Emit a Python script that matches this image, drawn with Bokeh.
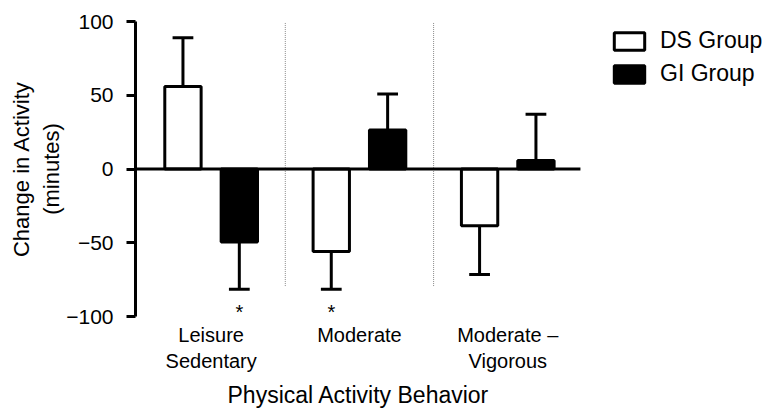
from bokeh.plotting import figure
from bokeh.models import (Range1d, FixedTicker, Legend, LegendItem,
                          ColumnDataSource, Title)
from bokeh.core.properties import value
from bokeh.embed import file_html
from bokeh.resources import INLINE

# ---- data ----
categories = ["Leisure\nSedentary", "Moderate", "Moderate \u2013\nVigorous"]
ds_values = [56, -56, -38.5]
ds_errors = [33, 25.5, 33]
gi_values = [-49.5, 26.5, 5.8]
gi_errors = [32, 24.4, 31.4]
ds_sig = [False, True, False]
gi_sig = [True, False, False]
y_ticks = [-100, -50, 0, 50, 100]
series_names = ["DS Group", "GI Group"]
x_title = "Physical Activity Behavior"

FONT = "Liberation Sans"
OFFSET = 0.19
BAR_W = 0.245
CAP = 0.07
X_START = -0.51
AXIS_END = 2.49      # where the zero line stops
X_END = 3.785        # frame extends to the right edge to host the legend

p = figure(width=772, height=412, output_backend="svg", toolbar_location=None,
           x_range=Range1d(X_START, X_END), y_range=Range1d(-100, 100),
           min_border_left=135, min_border_right=0,
           min_border_top=21, min_border_bottom=95)
p.outline_line_color = None
p.grid.grid_line_color = None
p.background_fill_color = None
p.border_fill_color = "white"

xs = list(range(len(categories)))


def series(vals, errs, sig, shift, fill):
    cx = [x + shift for x in xs]
    src = ColumnDataSource(dict(x=cx, top=vals))
    r = p.vbar(x="x", top="top", bottom=0, width=BAR_W, source=src,
               fill_color=fill, line_color="black", line_width=3)
    ends = [v + (e if v >= 0 else -e) for v, e in zip(vals, errs)]
    p.segment(x0=cx, y0=vals, x1=cx, y1=ends, line_color="black",
              line_width=3)
    p.segment(x0=[c - CAP for c in cx], y0=ends, x1=[c + CAP for c in cx],
              y1=ends, line_color="black", line_width=3)
    sx = [c for c, s in zip(cx, sig) if s]
    sy = [e for e, s in zip(ends, sig) if s]
    if sx:
        p.text(x=sx, y=sy, text=["*"] * len(sx), text_align="center",
               text_baseline="middle", y_offset=23,
               text_font=value(FONT), text_font_size="20px",
               text_color="black")
    return r


r_ds = series(ds_values, ds_errors, ds_sig, -OFFSET, "white")
r_gi = series(gi_values, gi_errors, gi_sig, OFFSET, "black")

# dividers between groups
div_x = [x + 0.5 for x in xs[:-1]]
p.segment(x0=div_x, y0=[99] * len(div_x), x1=div_x, y1=[-80] * len(div_x),
          line_color="#8a8a8a", line_width=1, line_dash="1 1")

# zero line
p.segment(x0=[X_START], y0=[0], x1=[AXIS_END], y1=[0], line_color="black",
          line_width=3)

# y axis
ya = p.yaxis[0]
ya.ticker = FixedTicker(ticks=y_ticks)
ya.axis_line_width = 3
ya.axis_line_color = "black"
ya.major_tick_line_width = 3
ya.major_tick_line_color = "black"
ya.major_tick_out = 9
ya.major_tick_in = 0
ya.minor_tick_line_color = None
ya.major_label_text_font = FONT
ya.major_label_text_font_size = "21px"
ya.major_label_text_color = "black"
ya.major_label_standoff = 13
ya.axis_label = "Change in Activity\n(minutes)"
ya.axis_label_text_font = FONT
ya.axis_label_text_font_size = "22px"
ya.axis_label_text_font_style = "normal"
ya.axis_label_text_color = "black"
ya.axis_label_standoff = -1

# x axis
xa = p.xaxis[0]
xa.ticker = FixedTicker(ticks=xs)
xa.major_label_overrides = {i: c for i, c in zip(xs, categories)}
xa.axis_line_color = None
xa.major_tick_line_color = None
xa.major_tick_out = 0
xa.major_tick_in = 0
xa.minor_tick_line_color = None
xa.major_label_text_font = FONT
xa.major_label_text_font_size = "20px"
xa.major_label_text_color = "black"
xa.major_label_standoff = 7

# x-axis title, placed below the category labels over the bar area
p.add_layout(Title(text=x_title, align="left", offset=92, standoff=10,
                   text_font=FONT, text_font_size="23px",
                   text_font_style="normal", text_color="black"), "below")

legend = Legend(items=[LegendItem(label=series_names[0], renderers=[r_ds]),
                       LegendItem(label=series_names[1], renderers=[r_gi])],
                location=(475, 229), margin=0, padding=0,
                glyph_width=38, glyph_height=22, label_standoff=12,
                spacing=6, label_text_font=FONT, label_text_font_size="23px",
                label_text_color="black", border_line_color=None,
                background_fill_alpha=0)
p.add_layout(legend, "center")

open("out.html", "w").write(file_html(p, INLINE))
